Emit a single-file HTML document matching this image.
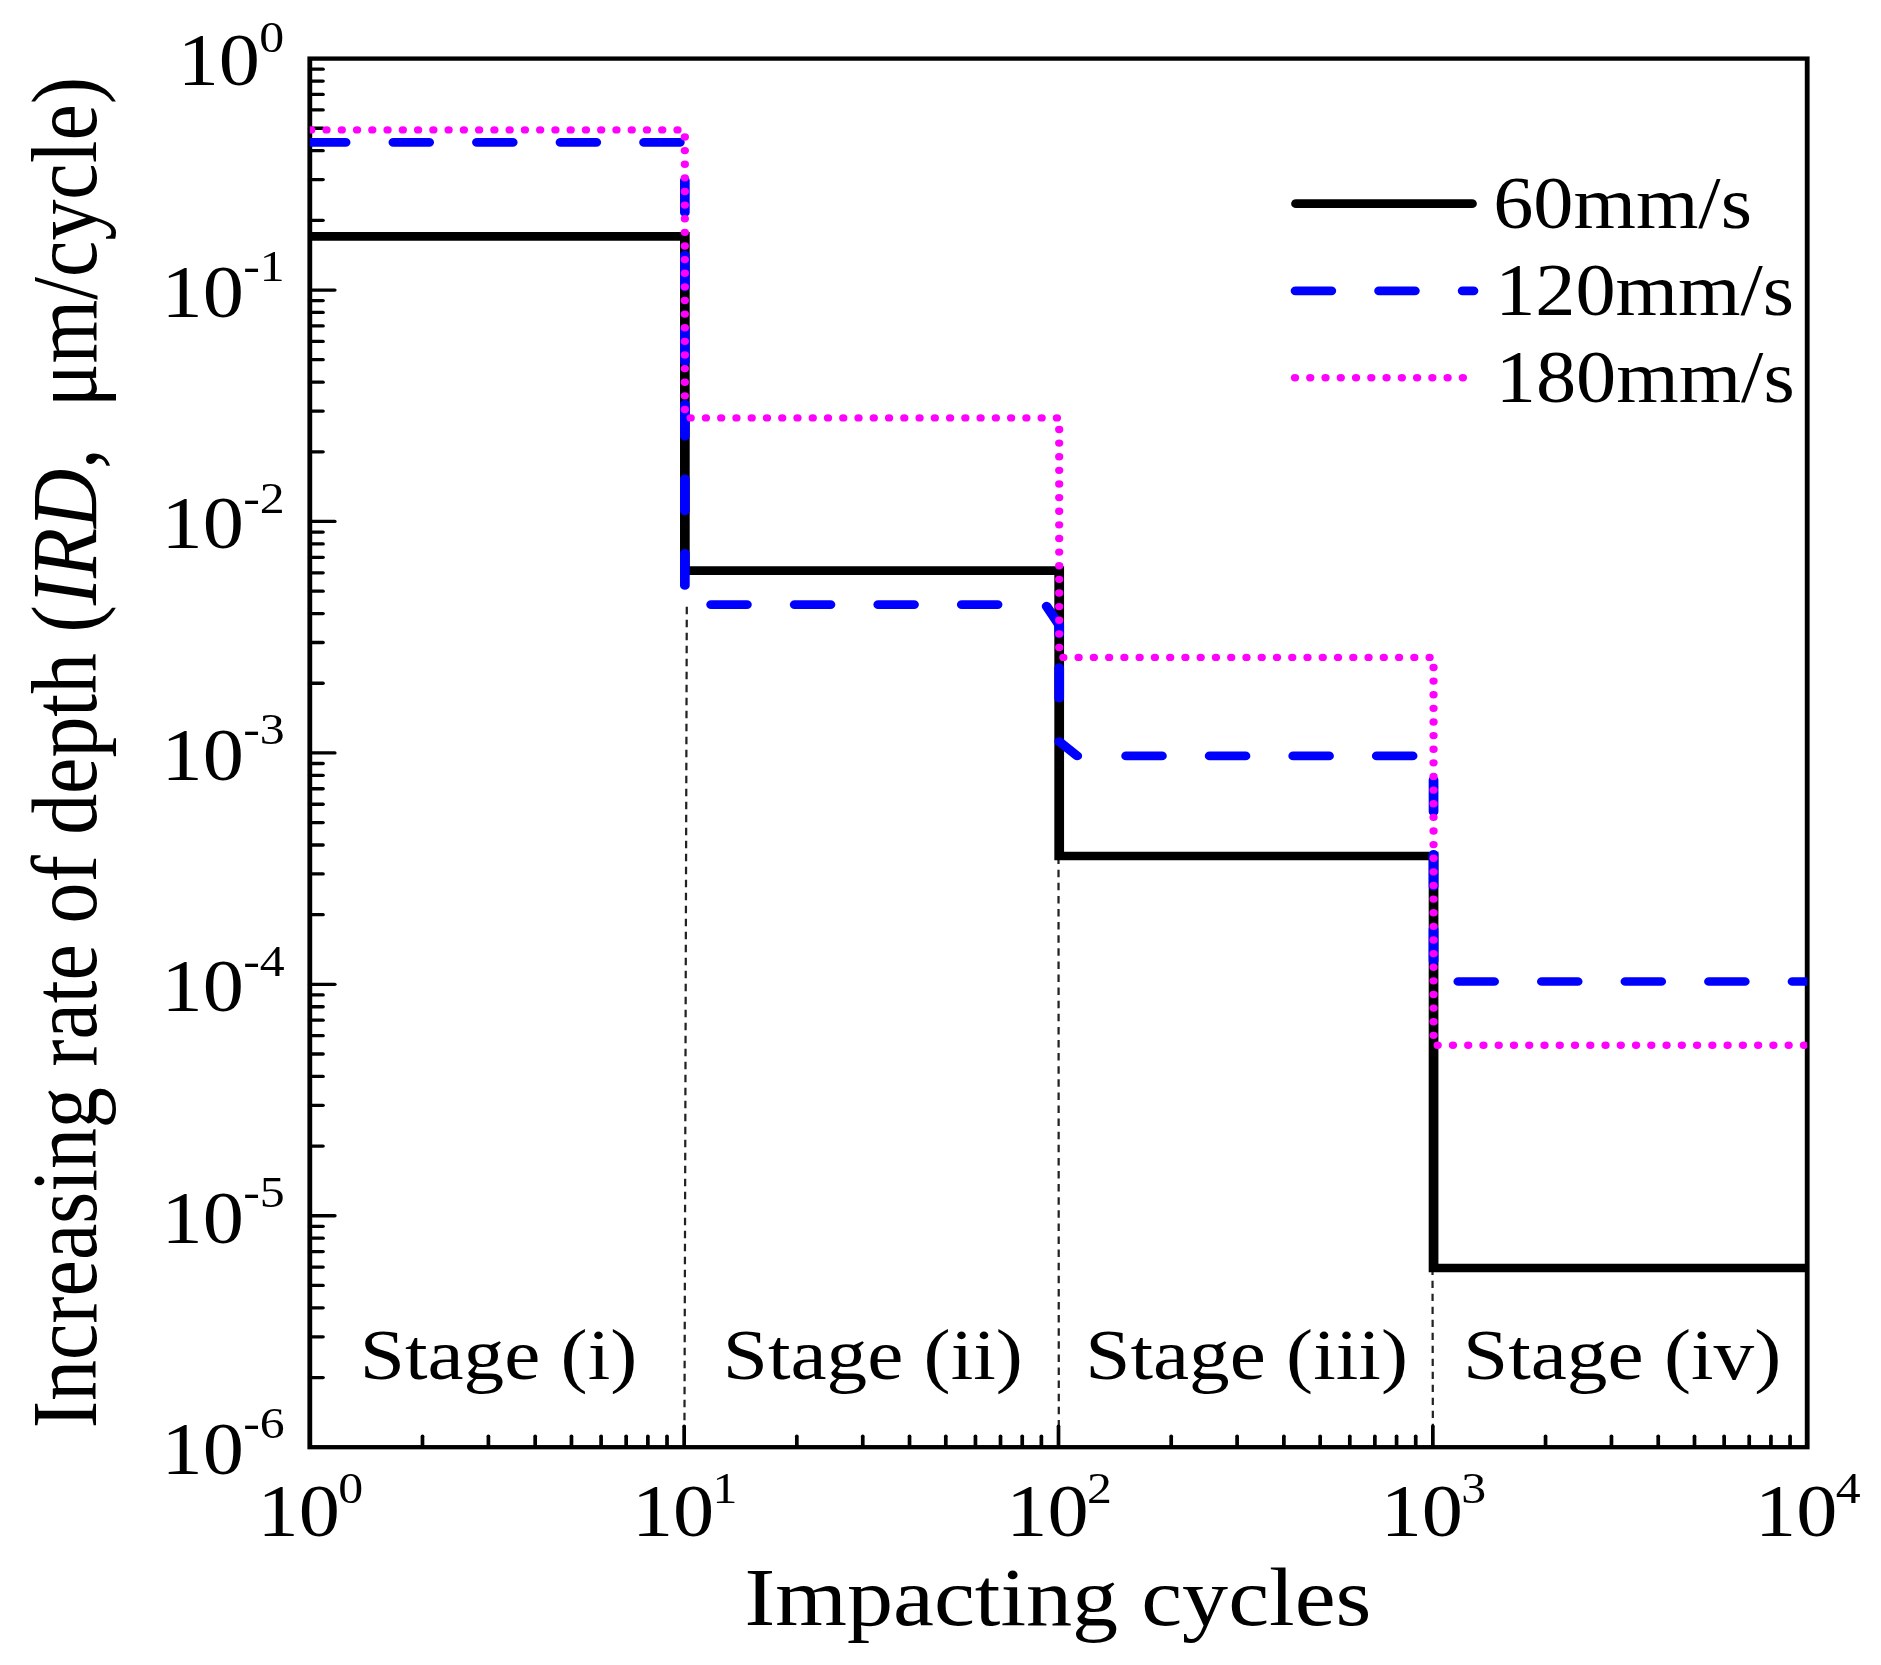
<!DOCTYPE html>
<html><head><meta charset="utf-8"><title>Increasing rate of depth</title>
<style>
html,body{margin:0;padding:0;background:#fff;}
body{width:1881px;height:1665px;overflow:hidden;}
svg{display:block;filter:blur(0.75px);}
text{font-family:"Liberation Serif","Times New Roman",serif;fill:#000;font-kerning:none;}
</style></head><body>
<svg width="1881" height="1665" viewBox="0 0 1881 1665">
<rect width="1881" height="1665" fill="#fff"/>
<g transform="scale(1.12,1)">

<g stroke="#222" stroke-width="2.0" fill="none">
<line x1="613.21" y1="606.75" x2="611.07" y2="1447.2" stroke-dasharray="7.4 5.6"/>
<line x1="945.09" y1="856.60" x2="945.36" y2="1447.2" stroke-dasharray="7.5 5.6"/>
<line x1="1279.02" y1="1267.70" x2="1279.38" y2="1447.2" stroke-dasharray="7.4 5.6"/>
</g>
<rect x="276.61" y="58.6" width="1336.96" height="1388.60" fill="none" stroke="#000" stroke-width="4.3" />
<g stroke="#000" stroke-width="3.3" stroke-linecap="round">
<line x1="276.61" y1="290.03" x2="298.93" y2="290.03"/>
<line x1="276.61" y1="220.36" x2="288.39" y2="220.36"/>
<line x1="276.61" y1="179.61" x2="288.39" y2="179.61"/>
<line x1="276.61" y1="150.70" x2="288.39" y2="150.70"/>
<line x1="276.61" y1="128.27" x2="288.39" y2="128.27"/>
<line x1="276.61" y1="109.94" x2="288.39" y2="109.94"/>
<line x1="276.61" y1="94.45" x2="288.39" y2="94.45"/>
<line x1="276.61" y1="81.03" x2="288.39" y2="81.03"/>
<line x1="276.61" y1="69.19" x2="288.39" y2="69.19"/>
<line x1="276.61" y1="521.47" x2="298.93" y2="521.47"/>
<line x1="276.61" y1="451.80" x2="288.39" y2="451.80"/>
<line x1="276.61" y1="411.04" x2="288.39" y2="411.04"/>
<line x1="276.61" y1="382.13" x2="288.39" y2="382.13"/>
<line x1="276.61" y1="359.70" x2="288.39" y2="359.70"/>
<line x1="276.61" y1="341.38" x2="288.39" y2="341.38"/>
<line x1="276.61" y1="325.88" x2="288.39" y2="325.88"/>
<line x1="276.61" y1="312.46" x2="288.39" y2="312.46"/>
<line x1="276.61" y1="300.62" x2="288.39" y2="300.62"/>
<line x1="276.61" y1="752.90" x2="298.93" y2="752.90"/>
<line x1="276.61" y1="683.23" x2="288.39" y2="683.23"/>
<line x1="276.61" y1="642.48" x2="288.39" y2="642.48"/>
<line x1="276.61" y1="613.56" x2="288.39" y2="613.56"/>
<line x1="276.61" y1="591.14" x2="288.39" y2="591.14"/>
<line x1="276.61" y1="572.81" x2="288.39" y2="572.81"/>
<line x1="276.61" y1="557.32" x2="288.39" y2="557.32"/>
<line x1="276.61" y1="543.89" x2="288.39" y2="543.89"/>
<line x1="276.61" y1="532.06" x2="288.39" y2="532.06"/>
<line x1="276.61" y1="984.33" x2="298.93" y2="984.33"/>
<line x1="276.61" y1="914.66" x2="288.39" y2="914.66"/>
<line x1="276.61" y1="873.91" x2="288.39" y2="873.91"/>
<line x1="276.61" y1="845.00" x2="288.39" y2="845.00"/>
<line x1="276.61" y1="822.57" x2="288.39" y2="822.57"/>
<line x1="276.61" y1="804.24" x2="288.39" y2="804.24"/>
<line x1="276.61" y1="788.75" x2="288.39" y2="788.75"/>
<line x1="276.61" y1="775.33" x2="288.39" y2="775.33"/>
<line x1="276.61" y1="763.49" x2="288.39" y2="763.49"/>
<line x1="276.61" y1="1215.77" x2="298.93" y2="1215.77"/>
<line x1="276.61" y1="1146.10" x2="288.39" y2="1146.10"/>
<line x1="276.61" y1="1105.34" x2="288.39" y2="1105.34"/>
<line x1="276.61" y1="1076.43" x2="288.39" y2="1076.43"/>
<line x1="276.61" y1="1054.00" x2="288.39" y2="1054.00"/>
<line x1="276.61" y1="1035.68" x2="288.39" y2="1035.68"/>
<line x1="276.61" y1="1020.18" x2="288.39" y2="1020.18"/>
<line x1="276.61" y1="1006.76" x2="288.39" y2="1006.76"/>
<line x1="276.61" y1="994.92" x2="288.39" y2="994.92"/>
<line x1="276.61" y1="1377.53" x2="288.39" y2="1377.53"/>
<line x1="276.61" y1="1336.78" x2="288.39" y2="1336.78"/>
<line x1="276.61" y1="1307.86" x2="288.39" y2="1307.86"/>
<line x1="276.61" y1="1285.44" x2="288.39" y2="1285.44"/>
<line x1="276.61" y1="1267.11" x2="288.39" y2="1267.11"/>
<line x1="276.61" y1="1251.62" x2="288.39" y2="1251.62"/>
<line x1="276.61" y1="1238.19" x2="288.39" y2="1238.19"/>
<line x1="276.61" y1="1226.36" x2="288.39" y2="1226.36"/>
<line x1="377.22" y1="1447.20" x2="377.22" y2="1436.20"/>
<line x1="436.08" y1="1447.20" x2="436.08" y2="1436.20"/>
<line x1="477.84" y1="1447.20" x2="477.84" y2="1436.20"/>
<line x1="510.23" y1="1447.20" x2="510.23" y2="1436.20"/>
<line x1="536.70" y1="1447.20" x2="536.70" y2="1436.20"/>
<line x1="559.07" y1="1447.20" x2="559.07" y2="1436.20"/>
<line x1="578.46" y1="1447.20" x2="578.46" y2="1436.20"/>
<line x1="595.55" y1="1447.20" x2="595.55" y2="1436.20"/>
<line x1="610.85" y1="1447.20" x2="610.85" y2="1426.20"/>
<line x1="711.46" y1="1447.20" x2="711.46" y2="1436.20"/>
<line x1="770.32" y1="1447.20" x2="770.32" y2="1436.20"/>
<line x1="812.08" y1="1447.20" x2="812.08" y2="1436.20"/>
<line x1="844.47" y1="1447.20" x2="844.47" y2="1436.20"/>
<line x1="870.94" y1="1447.20" x2="870.94" y2="1436.20"/>
<line x1="893.31" y1="1447.20" x2="893.31" y2="1436.20"/>
<line x1="912.70" y1="1447.20" x2="912.70" y2="1436.20"/>
<line x1="929.80" y1="1447.20" x2="929.80" y2="1436.20"/>
<line x1="945.09" y1="1447.20" x2="945.09" y2="1426.20"/>
<line x1="1045.71" y1="1447.20" x2="1045.71" y2="1436.20"/>
<line x1="1104.56" y1="1447.20" x2="1104.56" y2="1436.20"/>
<line x1="1146.32" y1="1447.20" x2="1146.32" y2="1436.20"/>
<line x1="1178.71" y1="1447.20" x2="1178.71" y2="1436.20"/>
<line x1="1205.18" y1="1447.20" x2="1205.18" y2="1436.20"/>
<line x1="1227.56" y1="1447.20" x2="1227.56" y2="1436.20"/>
<line x1="1246.94" y1="1447.20" x2="1246.94" y2="1436.20"/>
<line x1="1264.04" y1="1447.20" x2="1264.04" y2="1436.20"/>
<line x1="1279.33" y1="1447.20" x2="1279.33" y2="1426.20"/>
<line x1="1379.95" y1="1447.20" x2="1379.95" y2="1436.20"/>
<line x1="1438.80" y1="1447.20" x2="1438.80" y2="1436.20"/>
<line x1="1480.56" y1="1447.20" x2="1480.56" y2="1436.20"/>
<line x1="1512.95" y1="1447.20" x2="1512.95" y2="1436.20"/>
<line x1="1539.42" y1="1447.20" x2="1539.42" y2="1436.20"/>
<line x1="1561.80" y1="1447.20" x2="1561.80" y2="1436.20"/>
<line x1="1581.18" y1="1447.20" x2="1581.18" y2="1436.20"/>
<line x1="1598.28" y1="1447.20" x2="1598.28" y2="1436.20"/>
</g>
<clipPath id="cp"><rect x="276.61" y="58.6" width="1336.96" height="1388.60"/></clipPath><g clip-path="url(#cp)">
<path d="M276.61 236.40 L611.47 236.40 L611.47 570.60 L945.71 570.60 L945.71 856.00 L1279.96 856.00 L1279.96 1268.00 L1613.57 1268.00" fill="none" stroke="#000" stroke-width="8.7" stroke-linejoin="miter"/>
<path d="M276.61 142.30 L611.47 142.30 L611.47 604.60 L933.04 604.60" fill="none" stroke="#0000ff" stroke-width="8.7" stroke-linecap="round" stroke-linejoin="round" stroke-dasharray="32 42.6"/>
<path d="M934.46 606.20 L945.71 625.00 L945.71 634.00 M945.71 667.70 L945.71 698.20 M945.71 741.50 L961.87 755.90" fill="none" stroke="#0000ff" stroke-width="8.7" stroke-linecap="round" stroke-linejoin="round"/>
<path d="M1005.45 755.90 L1279.96 755.90 L1279.96 981.50 L1613.57 981.50" fill="none" stroke="#0000ff" stroke-width="8.7" stroke-linecap="round" stroke-linejoin="round" stroke-dasharray="32 42.6"/>
<path d="M276.61 129.90 L611.47 129.90 L611.47 417.90 L945.71 417.90 L945.71 657.40 L1279.96 657.40 L1279.96 1045.30 L1613.57 1045.30" fill="none" stroke="#ff00ff" stroke-width="7.4" stroke-linecap="round" stroke-linejoin="round" stroke-dasharray="0.01 13.615" stroke-dashoffset="-1.3"/>
</g>
<line x1="1157.14" y1="203.7" x2="1314.29" y2="203.7" stroke="#000" stroke-width="8.7" stroke-linecap="round"/>
<line x1="1156.70" y1="290.8" x2="1315.62" y2="290.8" stroke="#0000ff" stroke-width="8.7" stroke-linecap="round" stroke-dasharray="32 42.6"/>
<line x1="1156.25" y1="377.8" x2="1310.71" y2="377.8" stroke="#ff00ff" stroke-width="7.4" stroke-linecap="round" stroke-dasharray="0.01 13.615"/>
</g>
<text transform="translate(1493.20 227.80) scale(1.1000 1)" font-size="73" text-anchor="start" >60mm/s</text>
<text transform="translate(1495.20 315.00) scale(1.1000 1)" font-size="73" text-anchor="start" >120mm/s</text>
<text transform="translate(1495.80 402.20) scale(1.1000 1)" font-size="73" text-anchor="start" >180mm/s</text>
<text transform="translate(359.70 1379.30) scale(1.1370 1)" font-size="71.5" text-anchor="start" >Stage (i)</text>
<text transform="translate(722.70 1379.30) scale(1.1370 1)" font-size="71.5" text-anchor="start" >Stage (ii)</text>
<text transform="translate(1085.20 1379.30) scale(1.1370 1)" font-size="71.5" text-anchor="start" >Stage (iii)</text>
<text transform="translate(1463.00 1379.30) scale(1.1370 1)" font-size="71.5" text-anchor="start" >Stage (iv)</text>
<text transform="translate(177.70 85.40) scale(1.1200 1)" font-size="73.5">10<tspan font-size="44.5" dx="-0.64" dy="-33.80">0</tspan></text>
<text transform="translate(161.60 316.83) scale(1.1200 1)" font-size="73.5">10<tspan font-size="44.5" dx="-0.64" dy="-35.60">-1</tspan></text>
<text transform="translate(161.60 548.27) scale(1.1200 1)" font-size="73.5">10<tspan font-size="44.5" dx="-0.64" dy="-35.60">-2</tspan></text>
<text transform="translate(161.60 779.70) scale(1.1200 1)" font-size="73.5">10<tspan font-size="44.5" dx="-0.64" dy="-35.60">-3</tspan></text>
<text transform="translate(161.60 1011.13) scale(1.1200 1)" font-size="73.5">10<tspan font-size="44.5" dx="-0.64" dy="-35.60">-4</tspan></text>
<text transform="translate(161.60 1242.57) scale(1.1200 1)" font-size="73.5">10<tspan font-size="44.5" dx="-0.64" dy="-35.60">-5</tspan></text>
<text transform="translate(161.60 1474.00) scale(1.1200 1)" font-size="73.5">10<tspan font-size="44.5" dx="-0.64" dy="-35.60">-6</tspan></text>
<text transform="translate(257.60 1536.00) scale(1.1200 1)" font-size="73.5">10<tspan font-size="44.5" dx="-1.45" dy="-33.50">0</tspan></text>
<text transform="translate(631.95 1536.00) scale(1.1200 1)" font-size="73.5">10<tspan font-size="44.5" dx="-1.45" dy="-33.50">1</tspan></text>
<text transform="translate(1006.30 1536.00) scale(1.1200 1)" font-size="73.5">10<tspan font-size="44.5" dx="-1.45" dy="-33.50">2</tspan></text>
<text transform="translate(1380.65 1536.00) scale(1.1200 1)" font-size="73.5">10<tspan font-size="44.5" dx="-1.45" dy="-33.50">3</tspan></text>
<text transform="translate(1755.00 1536.00) scale(1.1200 1)" font-size="73.5">10<tspan font-size="44.5" dx="-1.45" dy="-33.50">4</tspan></text>
<text transform="translate(1058.00 1625.00) scale(1.1240 1)" font-size="82" text-anchor="middle" >Impacting cycles</text>
<text transform="translate(95.5 752.6) rotate(-90) scale(1 1.14)" font-size="81.9" text-anchor="middle" xml:space="preserve" style="white-space:pre">Increasing rate of depth (<tspan font-style="italic">IRD</tspan>,  μm/cycle)</text>
</svg></body></html>
